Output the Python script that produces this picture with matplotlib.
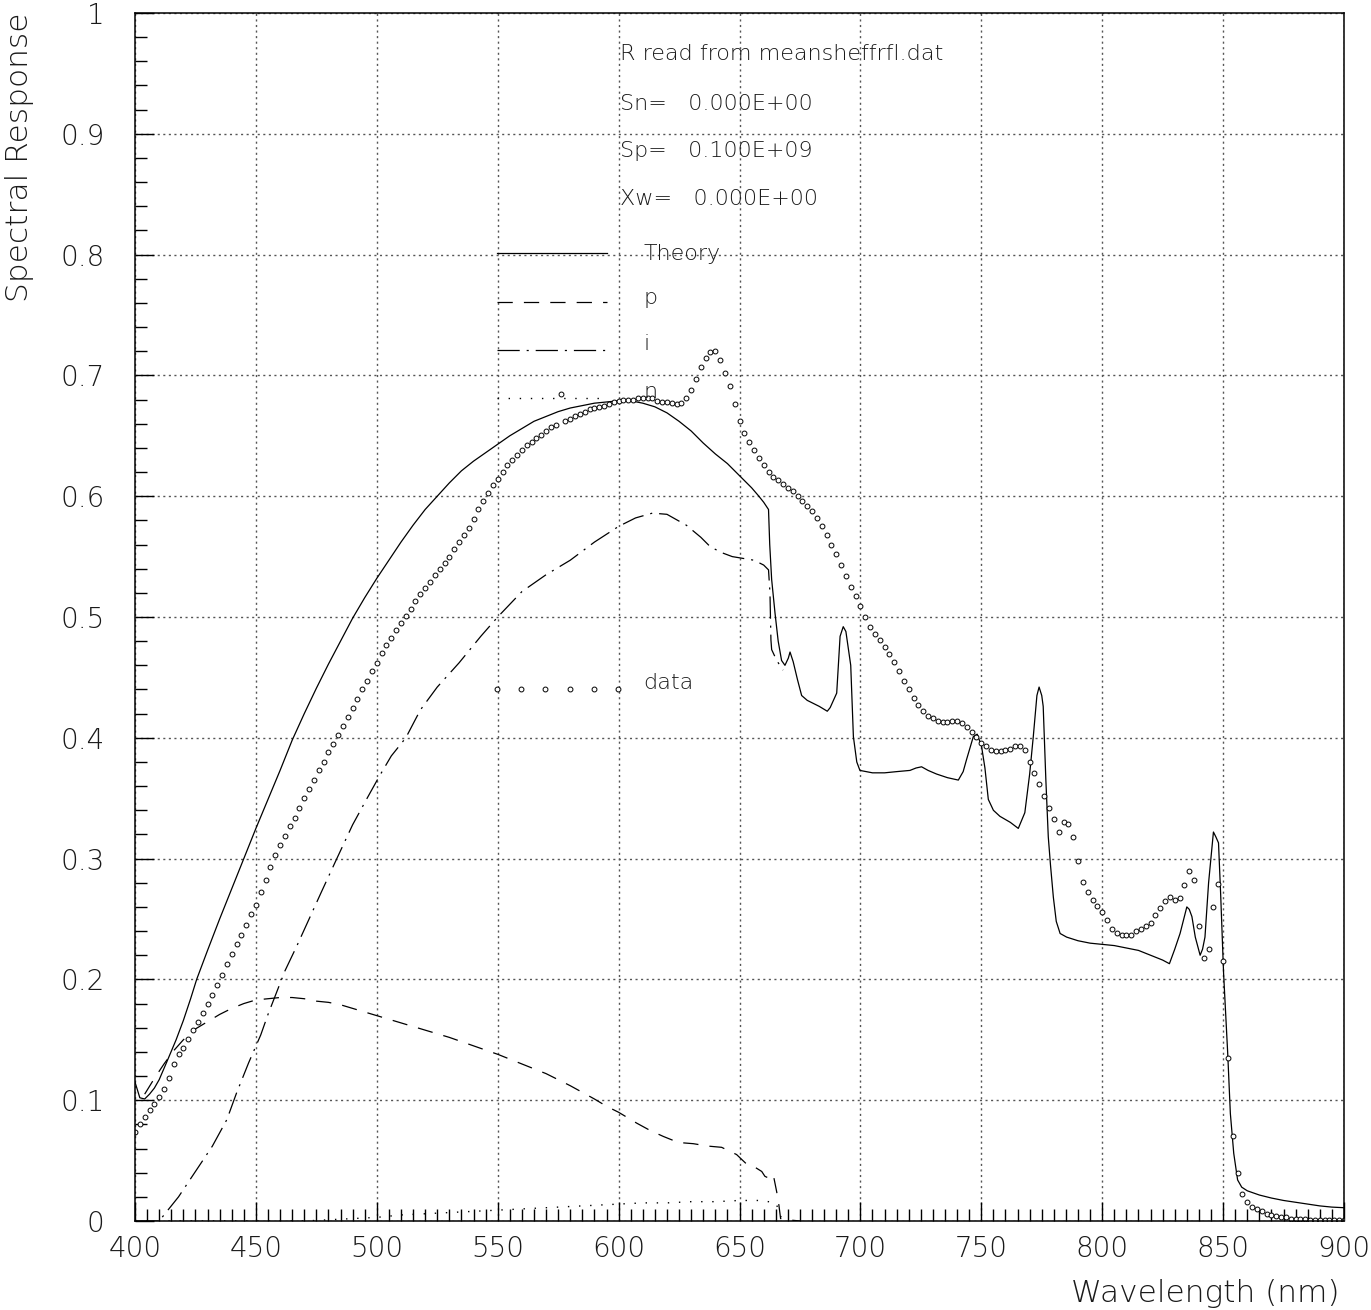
import numpy as np
import matplotlib
matplotlib.use("Agg")
import matplotlib.pyplot as plt

plt.rcParams["font.family"] = ["DejaVu Sans"]
plt.rcParams["font.weight"] = "light"
plt.rcParams["lines.scale_dashes"] = False

# measured spectral response (open circles), 2 nm steps
data_wl = np.arange(400, 901, 2)
data_val = [
    0.074, 0.080, 0.086, 0.092, 0.097, 0.103, 0.109, 0.118, 0.130, 0.138,
    0.143, 0.151, 0.158, 0.165, 0.172, 0.180, 0.187, 0.195, 0.204, 0.213,
    0.221, 0.229, 0.237, 0.245, 0.254, 0.262, 0.272, 0.282, 0.293, 0.303,
    0.311, 0.319, 0.327, 0.334, 0.342, 0.350, 0.358, 0.365, 0.373, 0.380,
    0.388, 0.395, 0.402, 0.410, 0.417, 0.425, 0.432, 0.440, 0.447, 0.455,
    0.462, 0.470, 0.477, 0.483, 0.489, 0.495, 0.501, 0.507, 0.513, 0.519,
    0.524, 0.529, 0.535, 0.540, 0.545, 0.550, 0.556, 0.562, 0.568, 0.574,
    0.581, 0.589, 0.596, 0.603, 0.609, 0.614, 0.620, 0.626, 0.630, 0.634,
    0.638, 0.642, 0.645, 0.648, 0.651, 0.654, 0.657, 0.659, 0.685, 0.662,
    0.664, 0.666, 0.668, 0.670, 0.672, 0.673, 0.674, 0.675, 0.676, 0.678,
    0.679, 0.680, 0.680, 0.680, 0.681, 0.681, 0.681, 0.681, 0.679, 0.678,
    0.678, 0.677, 0.676, 0.677, 0.681, 0.688, 0.697, 0.707, 0.714, 0.719,
    0.720, 0.713, 0.702, 0.691, 0.676, 0.662, 0.652, 0.645, 0.638, 0.632,
    0.626, 0.620, 0.616, 0.613, 0.610, 0.607, 0.604, 0.600, 0.596, 0.592,
    0.588, 0.582, 0.575, 0.568, 0.560, 0.552, 0.543, 0.534, 0.525, 0.517,
    0.509, 0.500, 0.492, 0.486, 0.481, 0.475, 0.469, 0.463, 0.455, 0.447,
    0.440, 0.433, 0.427, 0.422, 0.418, 0.416, 0.414, 0.413, 0.413, 0.414,
    0.414, 0.412, 0.409, 0.405, 0.401, 0.396, 0.393, 0.390, 0.389, 0.389,
    0.390, 0.391, 0.393, 0.393, 0.390, 0.380, 0.371, 0.362, 0.352, 0.342,
    0.333, 0.322, 0.330, 0.329, 0.318, 0.298, 0.281, 0.272, 0.266, 0.261,
    0.256, 0.249, 0.242, 0.238, 0.237, 0.237, 0.237, 0.240, 0.242, 0.244,
    0.247, 0.253, 0.259, 0.265, 0.268, 0.266, 0.267, 0.278, 0.290, 0.282,
    0.244, 0.218, 0.225, 0.260, 0.279, 0.215, 0.135, 0.070, 0.040, 0.022,
    0.016, 0.012, 0.010, 0.008, 0.006, 0.005, 0.004, 0.003, 0.003, 0.002,
    0.002, 0.002, 0.002, 0.001, 0.001, 0.001, 0.001, 0.001, 0.001, 0.001,
    0.001,
]

# total theoretical response
theory_wl = [400, 402, 404, 406, 408, 410, 413, 417, 420, 423, 425.5, 430, 435, 440, 445,
             450, 455, 460, 465, 470, 475, 480, 485, 490, 495, 500, 505, 510, 515, 520,
             525, 530, 535, 540, 545, 550, 555, 560, 565, 570, 575, 580, 585, 590, 595,
             600, 605, 610, 615, 620, 625, 630, 635, 640, 645, 650, 655, 658, 660, 662,
             662.5, 663.3, 664.7, 666, 667.4, 668.8, 670.2, 670.9, 672.2, 674, 675.7, 678,
             680, 683, 686.3, 687.5, 690.2, 691.6, 692.9, 694, 696, 697.1, 698.5, 699.8,
             705, 710, 715, 720.5, 723, 725.3, 728, 731.5, 736, 740.5, 742.5, 743.9, 746.7,
             748.3, 750.1, 751.5, 752.9, 755, 757.7, 762, 765.3, 768, 770, 771.5, 773,
             773.9, 775, 775.6, 776.7, 777.7, 778.6, 779.8, 781, 782.6, 785.3, 790, 795,
             800, 805, 810, 815, 820, 825, 827.8, 830, 832.2, 835, 836, 837.1, 838.5,
             840.5, 841.5, 842.5, 844, 846, 847, 848.1, 849, 850.2, 851.9, 853, 854.4,
             856, 857.7, 860, 865, 870, 875, 880, 885, 890, 895, 900]
theory_val = [0.115, 0.102, 0.101, 0.105, 0.110, 0.117, 0.131, 0.150, 0.166, 0.184, 0.200,
              0.224, 0.250, 0.275, 0.300, 0.325, 0.349, 0.373, 0.398, 0.420, 0.441, 0.461,
              0.480, 0.499, 0.516, 0.532, 0.547, 0.562, 0.576, 0.589, 0.600, 0.611, 0.621,
              0.629, 0.636, 0.643, 0.650, 0.656, 0.662, 0.666, 0.670, 0.673, 0.675, 0.677,
              0.678, 0.679, 0.679, 0.677, 0.674, 0.669, 0.662, 0.654, 0.644, 0.635, 0.627,
              0.617, 0.607, 0.600, 0.595, 0.589, 0.560, 0.531, 0.503, 0.480, 0.464, 0.460,
              0.466, 0.471, 0.463, 0.448, 0.435, 0.431, 0.429, 0.426, 0.422, 0.425, 0.437,
              0.484, 0.492, 0.488, 0.460, 0.401, 0.380, 0.373, 0.371, 0.371, 0.372, 0.373,
              0.375, 0.376, 0.373, 0.370, 0.367, 0.365, 0.372, 0.382, 0.401, 0.403, 0.393,
              0.375, 0.349, 0.340, 0.335, 0.330, 0.325, 0.338, 0.370, 0.401, 0.435, 0.442,
              0.435, 0.426, 0.365, 0.318, 0.295, 0.268, 0.248, 0.238, 0.235, 0.232, 0.230,
              0.229, 0.228, 0.226, 0.224, 0.220, 0.216, 0.213, 0.225, 0.238, 0.260, 0.258,
              0.252, 0.235, 0.220, 0.225, 0.235, 0.280, 0.322, 0.318, 0.313, 0.270, 0.205,
              0.139, 0.089, 0.056, 0.034, 0.028, 0.025, 0.0215, 0.019, 0.017, 0.0155, 0.014,
              0.0125, 0.0115, 0.011]

# p-layer contribution (dashed)
p_wl = [404, 408, 412, 416, 420, 425, 430, 435, 440, 445, 450, 455, 460, 465, 470, 475,
        480, 485, 490, 495, 500, 505, 510, 515, 520, 530, 540, 550, 560, 570, 580, 590,
        595, 600, 607.5, 613, 618.5, 624.7, 630.9, 637, 642.6, 648.8, 653, 656, 659.2,
        660.5, 662.6, 664, 665.4, 666.3, 667, 670, 675]
p_val = [0.105, 0.118, 0.130, 0.141, 0.150, 0.159, 0.165, 0.171, 0.176, 0.180, 0.183,
         0.184, 0.185, 0.185, 0.184, 0.182, 0.181, 0.179, 0.176, 0.173, 0.170, 0.167,
         0.164, 0.161, 0.158, 0.152, 0.145, 0.138, 0.130, 0.122, 0.112, 0.101, 0.095,
         0.090, 0.081, 0.075, 0.070, 0.065, 0.064, 0.062, 0.061, 0.055, 0.047, 0.045,
         0.041, 0.037, 0.035, 0.038, 0.024, 0.013, 0.002, 0.001, 0.0]

# i-layer contribution (dash-dot)
i_wl = [400, 410, 412, 418, 425, 432, 438, 442, 447, 452, 455, 458.5, 462, 467, 472, 477,
        483, 490, 496, 501, 506, 512, 518, 525, 534, 543, 550, 560, 570, 580, 590, 600,
        607, 614, 620, 628, 634, 638, 643, 647, 656, 660, 662, 662.6, 663, 663.3, 665.4,
        668]
i_val = [0.0, 0.0, 0.005, 0.020, 0.041, 0.062, 0.084, 0.106, 0.131, 0.154, 0.171, 0.189,
         0.207, 0.228, 0.250, 0.272, 0.298, 0.328, 0.350, 0.368, 0.385, 0.400, 0.423,
         0.442, 0.462, 0.484, 0.500, 0.521, 0.535, 0.547, 0.562, 0.575, 0.582, 0.586,
         0.585, 0.576, 0.566, 0.558, 0.553, 0.550, 0.547, 0.543, 0.539, 0.520, 0.481,
         0.473, 0.464, 0.456]

# n-layer contribution (dotted)
n_wl = [400, 470, 480, 490, 500, 510, 520, 530, 540, 550, 560, 570, 580, 590, 600, 610,
        620, 630, 640, 650, 658, 662, 665, 666, 667, 668]
n_val = [0.0, 0.0, 0.001, 0.002, 0.003, 0.005, 0.006, 0.007, 0.008, 0.009, 0.010, 0.011,
         0.012, 0.013, 0.014, 0.015, 0.015, 0.016, 0.016, 0.017, 0.017, 0.016, 0.015,
         0.010, 0.004, 0.0]

info_lines = ["R read from meansheffrfl.dat", "Sn=   0.000E+00",
              "Sp=   0.100E+09", "Xw=   0.000E+00"]

DASHED = (0, (11, 8))
DASHDOT = (0, (16, 5, 1.5, 5))
DOTTED = (0, (1, 7))
GRID = (0, (1.5, 2.5))
TEXT_C = "#1a1a1a"

W, H = 1371, 1310
fig = plt.figure(figsize=(W / 100, H / 100), dpi=100)
ax = fig.add_axes([135 / W, 1 - 1221 / H, (1344 - 135) / W, (1221 - 13) / H])

ax.plot(theory_wl, theory_val, color="black", lw=0.9)
ax.plot(p_wl, p_val, color="black", lw=0.9, linestyle=DASHED)
ax.plot(i_wl, i_val, color="black", lw=0.9, linestyle=DASHDOT)
ax.plot(n_wl, n_val, color="black", lw=1.0, linestyle=DOTTED)
ax.plot(data_wl, data_val, linestyle="none", marker="o", ms=3.5,
        mfc="white", mec="black", mew=0.7)

ax.set_xlim(400, 900)
ax.set_ylim(0, 1)
ax.set_xticks(np.arange(400, 901, 50))
ax.set_xticks(np.arange(400, 901, 5), minor=True)
ax.set_yticks(np.round(np.arange(0, 1.01, 0.1), 1))
ax.set_yticks(np.arange(0, 1.001, 0.02), minor=True)
ax.set_yticklabels(["0", "0.1", "0.2", "0.3", "0.4", "0.5", "0.6", "0.7", "0.8", "0.9", "1"])
ax.tick_params(which="major", direction="in", length=14, width=1.0,
               top=False, right=False, labelsize=20, colors="black")
ax.tick_params(which="minor", direction="in", length=8.5, width=1.0,
               top=False, right=False)
ax.tick_params(axis="x", which="major", pad=10)
ax.tick_params(axis="y", which="major", pad=22)
for lab in ax.get_xticklabels() + ax.get_yticklabels():
    lab.set_color(TEXT_C)
for s in ax.spines.values():
    s.set_linewidth(1.1)

ax.grid(True, which="major", color="#555555", lw=1.0, linestyle=GRID)

# text block and key
txt = dict(fontsize=16, color=TEXT_C, ha="left", va="baseline")
for label, yv in zip(info_lines, [0.961, 0.920, 0.881, 0.841]):
    ax.text(600.6, yv, label, **txt)

key_x = [549.6, 595.2]
ax.plot(key_x, [0.801, 0.801], color="black", lw=0.9)
ax.plot(key_x, [0.761, 0.761], color="black", lw=0.9, linestyle=DASHED)
ax.plot(key_x, [0.721, 0.721], color="black", lw=0.9, linestyle=DASHDOT)
ax.plot(key_x, [0.681, 0.681], color="black", lw=1.0, linestyle=DOTTED)
ax.plot(np.linspace(549.6, 599.8, 6), [0.440] * 6, linestyle="none", marker="o",
        ms=3.5, mfc="white", mec="black", mew=0.7)
for label, yv in zip(["Theory", "p", "i", "n", "data"],
                     [0.7955, 0.759, 0.721, 0.681, 0.440]):
    ax.text(610.1, yv, label, **txt)

fig.text(20 / W, 1 - 13 / H, "Spectral Response", rotation=90, ha="center", va="top",
         fontsize=22.5, color=TEXT_C)
fig.text(1340 / W, 1 - 1293 / H, "Wavelength (nm)", ha="right", va="center",
         fontsize=22.5, color=TEXT_C)

fig.savefig("out.png", dpi=100)
